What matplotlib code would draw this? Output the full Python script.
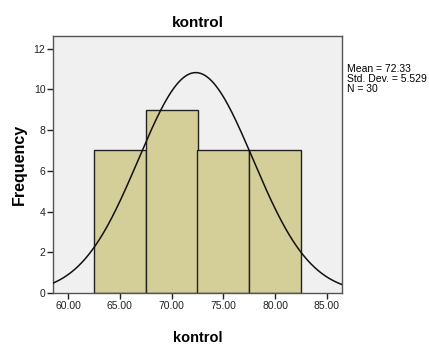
import numpy as np
import matplotlib
matplotlib.use("Agg")
import matplotlib.pyplot as plt

bin_edges = [62.5, 67.5, 72.5, 77.5, 82.5]
counts = [7, 9, 7, 7]
mean = 72.33
std = 5.529
n = 30
xticks = [60, 65, 70, 75, 80, 85]
yticks = [0, 2, 4, 6, 8, 10, 12]

plt.rcParams['font.family'] = ['Liberation Sans', 'DejaVu Sans']
fig = plt.figure(figsize=(4.29, 3.47), dpi=100)
ax = fig.add_axes([53/429, 54/347, 289/429, 257/347])
ax.set_facecolor('#f0f0f0')
lefts = bin_edges[:-1]
widths = np.diff(bin_edges)
ax.bar(lefts, counts, width=widths, align='edge', color='#d4cf99', edgecolor='#222222', linewidth=1.0, zorder=2)
xs = np.linspace(58.55, 86.45, 400)
bw = widths[0]
ys = n * bw / (std * np.sqrt(2 * np.pi)) * np.exp(-0.5 * ((xs - mean) / std) ** 2)
ax.plot(xs, ys, color='#111111', linewidth=1.1, zorder=3)
ax.set_xlim(58.55, 86.45)
ax.set_ylim(0, 12.62)
ax.set_xticks(xticks)
ax.set_xticklabels([f"{v:.2f}" for v in xticks], fontsize=7.5)
ax.set_yticks(yticks)
ax.set_yticklabels([str(v) for v in yticks], fontsize=7.5)
ax.tick_params(direction='out', length=4, width=1, pad=1.5, colors='#222222')
for s in ax.spines.values():
    s.set_color('#555555')
    s.set_linewidth(1)
ax.set_title('kontrol', fontsize=11, fontweight='bold', pad=6.5)
xl = ax.set_xlabel('kontrol', fontsize=10.5, fontweight='bold')
xl.set_va('center')
ax.xaxis.set_label_coords(0.5, (293 - 338) / 257)
yl = ax.set_ylabel('Frequency', fontsize=11.5, fontweight='bold')
yl.set_va('center')
ax.yaxis.set_label_coords((19 - 53) / 289, 0.5)
fig.text(347/429, 1 - 78.5/347, f"Mean = {mean}\nStd. Dev. = {std}\nN = {n}", fontsize=7.5, va='center', ha='left', linespacing=1.0)
fig.savefig('out.png', dpi=100)
